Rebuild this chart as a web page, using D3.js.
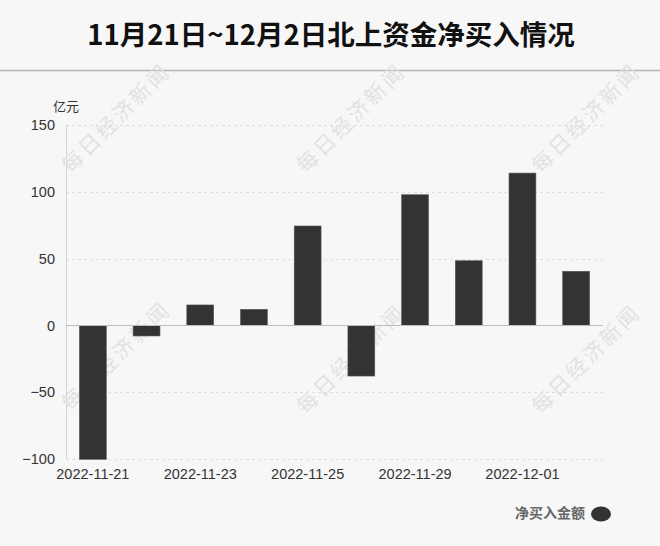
<!DOCTYPE html>
<html><head><meta charset="utf-8">
<script src="https://cdn.jsdelivr.net/npm/d3@7/dist/d3.min.js"></script>
<style>
html,body{margin:0;padding:0;background:#f7f7f7;}
svg{display:block;}
</style></head>
<body>
<svg id="c" width="660" height="546"></svg>
<script>
const categories = ["2022-11-21","2022-11-22","2022-11-23","2022-11-24","2022-11-25","2022-11-28","2022-11-29","2022-11-30","2022-12-01","2022-12-02"];
const values = [-100.2, -7.9, 15.3, 12.0, 74.4, -37.9, 97.8, 48.4, 114.0, 40.5];
const yTicks = [-100, -50, 0, 50, 100, 150];
const xTickLabels = ["2022-11-21","2022-11-23","2022-11-25","2022-11-29","2022-12-01"];
const title = "11月21日~12月2日北上资金净买入情况";
const unit = "亿元";
const seriesName = "净买入金额";
const watermark = "每日经济新闻";

const svg = d3.select("#c");
svg.append("rect").attr("width",660).attr("height",546).attr("fill","#f7f7f7");

const x = d3.scaleBand().domain(categories).range([66,603]).paddingInner(0.5).paddingOuter(0.25);
const y = d3.scaleLinear().domain([-100,150]).range([459,125]);

// title
svg.append("text").attr("x",331).attr("y",45).attr("text-anchor","middle")
  .attr("font-family","'Noto Sans CJK SC','Noto Sans',sans-serif").attr("font-weight","bold")
  .attr("font-size",27.5).attr("fill","#111").text(title);
svg.append("line").attr("x1",0).attr("x2",660).attr("y1",70.5).attr("y2",70.5)
  .attr("stroke","#b5b5b5").attr("stroke-width",1.5);

// grid
const g = svg.append("g");
g.selectAll("line.grid").data(yTicks.filter(d=>d!==0)).join("line")
  .attr("x1",66).attr("x2",603).attr("y1",d=>Math.round(y(d))+0.5).attr("y2",d=>Math.round(y(d))+0.5)
  .attr("stroke","#dedede").attr("stroke-dasharray","3,3");

// y axis
const yAxis = d3.axisLeft(y).tickValues(yTicks).tickSize(0).tickPadding(11);
const ya = svg.append("g").attr("transform","translate(66,0)").call(yAxis);
ya.select(".domain").attr("stroke","#d3d3d3");
ya.selectAll("text").attr("font-family","'Liberation Sans',Arial,sans-serif").attr("font-size",14.5).attr("fill","#333");

svg.append("text").attr("x",53).attr("y",111).attr("font-family","'Noto Sans CJK SC',sans-serif")
  .attr("font-size",13).attr("fill","#333").text(unit);

// watermarks
const wmPos = [[115,117],[350,117],[585,117],[115,355],[350,358],[585,358]];
svg.append("g").selectAll("text").data(wmPos).join("text")
  .attr("transform",d=>`translate(${d[0]},${d[1]}) rotate(-45)`)
  .attr("text-anchor","middle").attr("dominant-baseline","central")
  .attr("font-family","'Noto Sans CJK SC',sans-serif").attr("font-size",21)
  .attr("letter-spacing",3).attr("fill","#e2e2e2").text(watermark);

// bars
svg.append("g").selectAll("rect").data(values).join("rect")
  .attr("x",(d,i)=>x(categories[i])).attr("width",x.bandwidth())
  .attr("y",d=>Math.min(y(d),y(0))).attr("height",d=>Math.abs(y(d)-y(0)))
  .attr("fill","#333333").attr("stroke","#555").attr("stroke-width",0.6);

// zero line
svg.append("line").attr("x1",66).attr("x2",603).attr("y1",Math.round(y(0))+0.5).attr("y2",Math.round(y(0))+0.5)
  .attr("stroke","#bdbdbd");

// x axis
const xAxis = d3.axisBottom(x).tickValues(xTickLabels).tickSize(0).tickPadding(8);
const xa = svg.append("g").attr("transform","translate(0,461)").call(xAxis);
xa.select(".domain").remove();
xa.selectAll("text").attr("font-family","'Liberation Sans',Arial,sans-serif").attr("font-size",14.5).attr("fill","#333");

// legend
svg.append("text").attr("x",585).attr("y",518).attr("text-anchor","end")
  .attr("font-family","'Noto Sans CJK SC',sans-serif").attr("font-weight","bold")
  .attr("font-size",14).attr("fill","#666").text(seriesName);
svg.append("ellipse").attr("cx",601).attr("cy",514).attr("rx",10).attr("ry",7.5).attr("fill","#333");
</script>
</body></html>
